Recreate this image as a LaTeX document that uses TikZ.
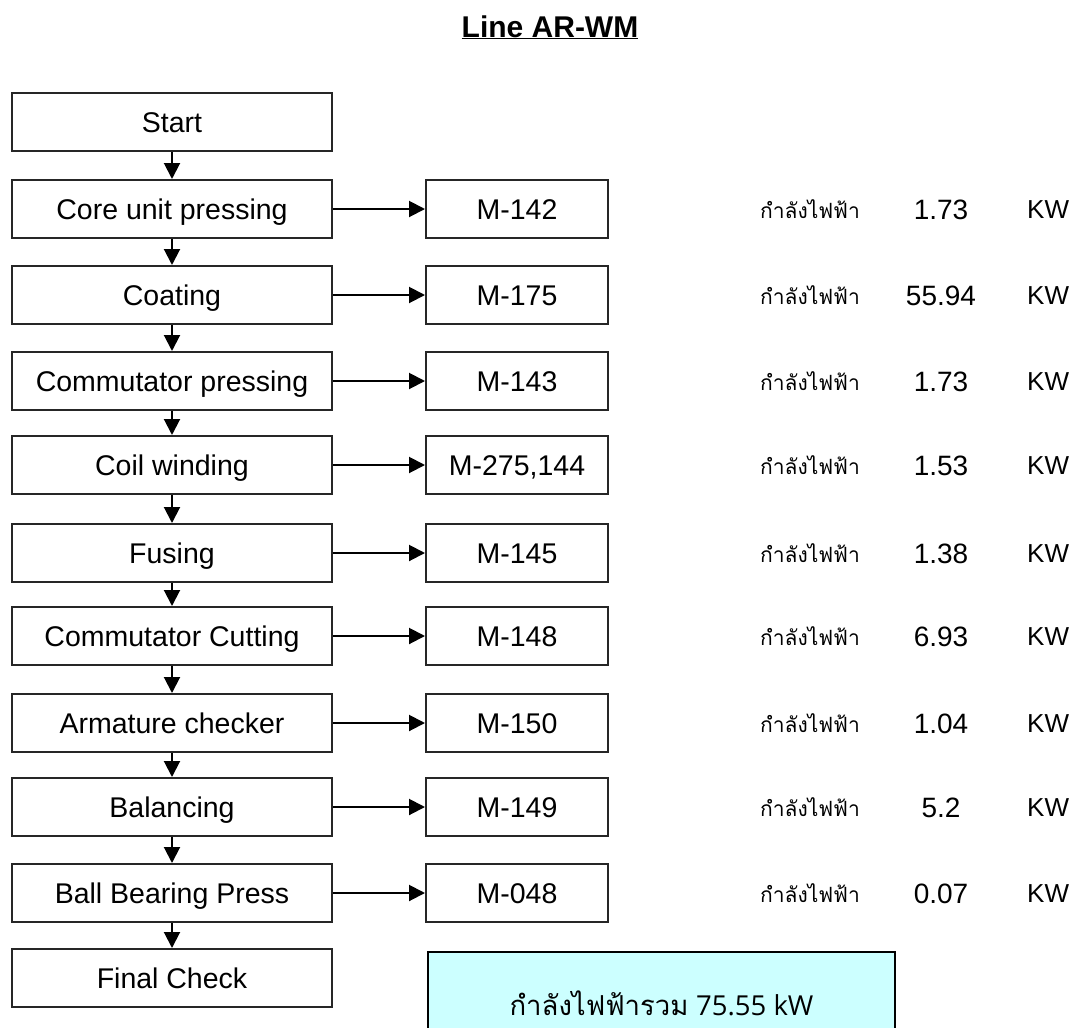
\documentclass[tikz,border=0pt]{standalone}
\usepackage{fontspec}
\setmainfont{Liberation Sans}
\newfontfamily\thaifont[Script=Thai]{Loma}
\newfontfamily\osans{Open Sans}
\usetikzlibrary{arrows.meta}
\definecolor{cyanfill}{RGB}{204,255,255}
\begin{document}
\begin{tikzpicture}[x=1pt,y=-1pt,
  proc/.style={draw=black!85, line width=2pt, minimum width=320pt, minimum height=58pt, inner sep=0pt, text height=20pt, text depth=0pt, font=\fontsize{28.5}{30}\selectfont},
  mach/.style={proc, minimum width=182pt},
  conn/.style={draw=black, line width=2pt, -{Triangle[length=16pt,width=16pt]}},
  lab/.style={inner sep=0pt, font=\fontsize{21}{24}\selectfont\thaifont},
  val/.style={inner sep=0pt, text height=20pt, text depth=0pt, font=\fontsize{28}{30}\selectfont},
  unit/.style={inner sep=0pt, anchor=west, text height=19pt, text depth=0pt, font=\fontsize{26}{28}\selectfont},
  total/.style={draw=black, line width=2pt, fill=cyanfill, minimum width=467pt, minimum height=102pt, inner sep=0pt}
]
\useasboundingbox (0,0) rectangle (1071,1028);
\node[inner sep=0pt, anchor=base, font=\fontsize{30}{32}\selectfont\bfseries] (title) at (550,37) {\underline{Line AR-WM}};

\node[proc] (p0) at (172,122) {Start};
\node[proc] (p1) at (172,209) {Core unit pressing};
\node[proc] (p2) at (172,295) {Coating};
\node[proc] (p3) at (172,381) {Commutator pressing};
\node[proc] (p4) at (172,465) {Coil winding};
\node[proc] (p5) at (172,553) {Fusing};
\node[proc] (p6) at (172,636) {Commutator Cutting};
\node[proc] (p7) at (172,723) {Armature checker};
\node[proc] (p8) at (172,807) {Balancing};
\node[proc] (p9) at (172,893) {Ball Bearing Press};
\node[proc] (p10) at (172,978) {Final Check};

\node[mach] (m1) at (517,209) {M-142};
\node[mach] (m2) at (517,295) {M-175};
\node[mach] (m3) at (517,381) {M-143};
\node[mach] (m4) at (517,465) {M-275,144};
\node[mach] (m5) at (517,553) {M-145};
\node[mach] (m6) at (517,636) {M-148};
\node[mach] (m7) at (517,723) {M-150};
\node[mach] (m8) at (517,807) {M-149};
\node[mach] (m9) at (517,893) {M-048};

\foreach \i [evaluate=\i as \j using int(\i+1)] in {0,...,9}
  \draw[conn] (p\i.south) -- (p\j.north);
\foreach \i in {1,...,9}
  \draw[conn] (p\i.east) -- (m\i.west);

\node[lab] (t1) at (810,209) {กำลังไฟฟ้า};
\node[lab] (t2) at (810,295) {กำลังไฟฟ้า};
\node[lab] (t3) at (810,381) {กำลังไฟฟ้า};
\node[lab] (t4) at (810,465) {กำลังไฟฟ้า};
\node[lab] (t5) at (810,553) {กำลังไฟฟ้า};
\node[lab] (t6) at (810,636) {กำลังไฟฟ้า};
\node[lab] (t7) at (810,723) {กำลังไฟฟ้า};
\node[lab] (t8) at (810,807) {กำลังไฟฟ้า};
\node[lab] (t9) at (810,893) {กำลังไฟฟ้า};

\node[val] (v1) at (941,209) {1.73};
\node[val] (v2) at (941,295) {55.94};
\node[val] (v3) at (941,381) {1.73};
\node[val] (v4) at (941,465) {1.53};
\node[val] (v5) at (941,553) {1.38};
\node[val] (v6) at (941,636) {6.93};
\node[val] (v7) at (941,723) {1.04};
\node[val] (v8) at (941,807) {5.2};
\node[val] (v9) at (941,893) {0.07};

\node[unit] (k1) at (1027,209) {KW};
\node[unit] (k2) at (1027,295) {KW};
\node[unit] (k3) at (1027,381) {KW};
\node[unit] (k4) at (1027,465) {KW};
\node[unit] (k5) at (1027,553) {KW};
\node[unit] (k6) at (1027,636) {KW};
\node[unit] (k7) at (1027,723) {KW};
\node[unit] (k8) at (1027,807) {KW};
\node[unit] (k9) at (1027,893) {KW};

\node[total] (tot) at (661.5,1003) {\fontsize{27.5}{30}\selectfont{\thaifont กำลังไฟฟ้ารวม} {\osans 75.55 kW}};
\end{tikzpicture}
\end{document}
